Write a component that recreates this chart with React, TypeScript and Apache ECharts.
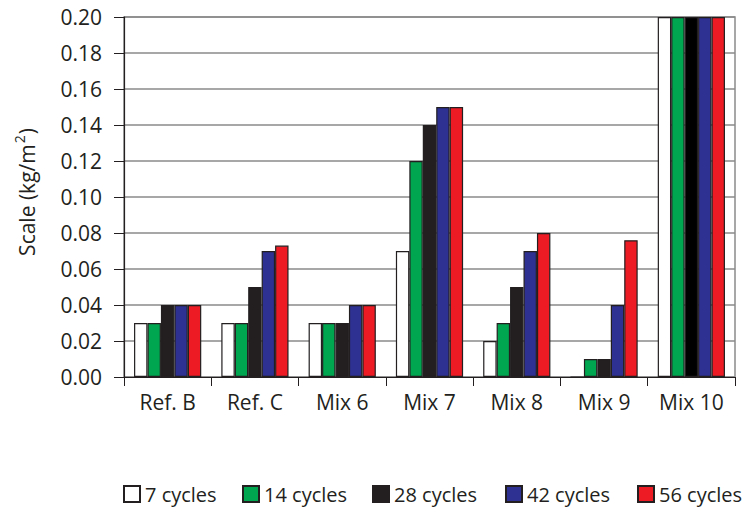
import React, { useEffect, useRef } from "react";
import * as echarts from "echarts";

const categories = ["Ref. B", "Ref. C", "Mix 6", "Mix 7", "Mix 8", "Mix 9", "Mix 10"];
const seriesNames = ["7 cycles", "14 cycles", "28 cycles", "42 cycles", "56 cycles"];
const cycles7 = [0.03, 0.03, 0.03, 0.07, 0.02, 0, 0.2];
const cycles14 = [0.03, 0.03, 0.03, 0.12, 0.03, 0.01, 0.2];
const cycles28 = [0.04, 0.05, 0.03, 0.14, 0.05, 0.01, 0.2];
const cycles42 = [0.04, 0.07, 0.04, 0.15, 0.07, 0.04, 0.2];
const cycles56 = [0.04, 0.073, 0.04, 0.15, 0.08, 0.076, 0.2];
const colors = ["#ffffff", "#00a650", "#231f20", "#2e3192", "#ed1c24"];
const yAxisTitle = ["Scale (kg/m", "2", ")"];

const FONT = "'Open Sans', 'Noto Sans', sans-serif";
const TEXT = "#231f20";
const legendLefts = [123, 242, 372, 505, 637];

export default function App() {
  const ref = useRef<HTMLDivElement>(null);
  useEffect(() => {
    if (!ref.current) return;
    const chart = echarts.init(ref.current, undefined, { renderer: "svg" });
    const all = [cycles7, cycles14, cycles28, cycles42, cycles56];
    chart.setOption({
      animation: false,
      backgroundColor: "#ffffff",
      textStyle: { fontFamily: FONT, color: TEXT },
      grid: { left: 124, right: 8, top: 17, bottom: 130, show: true, borderColor: "#8a8a8a", borderWidth: 1.5 },
      legend: seriesNames.map((name, i) => ({
        top: 484,
        left: legendLefts[i],
        padding: 0,
        itemWidth: 16,
        itemHeight: 16,
        icon: "rect",
        textStyle: { fontFamily: FONT, fontSize: 20, color: TEXT },
        data: [name],
      })),
      graphic: [
        {
          type: "text",
          x: 27,
          y: 192,
          rotation: Math.PI / 2,
          style: {
            text: "{a|" + yAxisTitle[0] + "}{s|" + yAxisTitle[1] + "}{a|" + yAxisTitle[2] + "}",
            align: "center",
            verticalAlign: "middle",
            rich: {
              a: { fontFamily: FONT, fontSize: 21, fill: TEXT, lineHeight: 28 },
              s: { fontFamily: FONT, fontSize: 14, fill: TEXT, lineHeight: 28, padding: [0, 1, 16, 1] },
            },
          },
        },
      ],
      xAxis: {
        type: "category",
        data: categories,
        axisLine: { lineStyle: { color: TEXT, width: 1.2 } },
        axisTick: { show: true, length: 9, lineStyle: { color: TEXT } },
        axisLabel: { fontFamily: FONT, fontSize: 21, color: TEXT, margin: 14 },
      },
      yAxis: {
        type: "value",
        min: 0,
        max: 0.2,
        interval: 0.02,
        axisLine: { show: true, lineStyle: { color: TEXT, width: 1.2 } },
        axisTick: { show: true, inside: false, length: 10, lineStyle: { color: TEXT } },
        axisLabel: { fontFamily: FONT, fontSize: 21, color: TEXT, margin: 22, formatter: (v: number) => v.toFixed(2) },
        splitLine: { show: true, lineStyle: { color: "#8a8a8a", width: 1.5 } },
      },
      series: seriesNames.map((name, i) => ({
        name,
        type: "bar",
        barGap: "0%",
        barCategoryGap: "23%",
        itemStyle: { color: colors[i], borderColor: TEXT, borderWidth: 1.2 },
        data: all[i].map((v, j) =>
          i === 2 && categories[j] === "Mix 10" ? { value: v, itemStyle: { color: "#000000" } } : v
        ),
      })),
    });
    return () => chart.dispose();
  }, []);
  return <div ref={ref} style={{ width: 743, height: 507, position: "absolute", left: 0, top: 0 }} />;
}
